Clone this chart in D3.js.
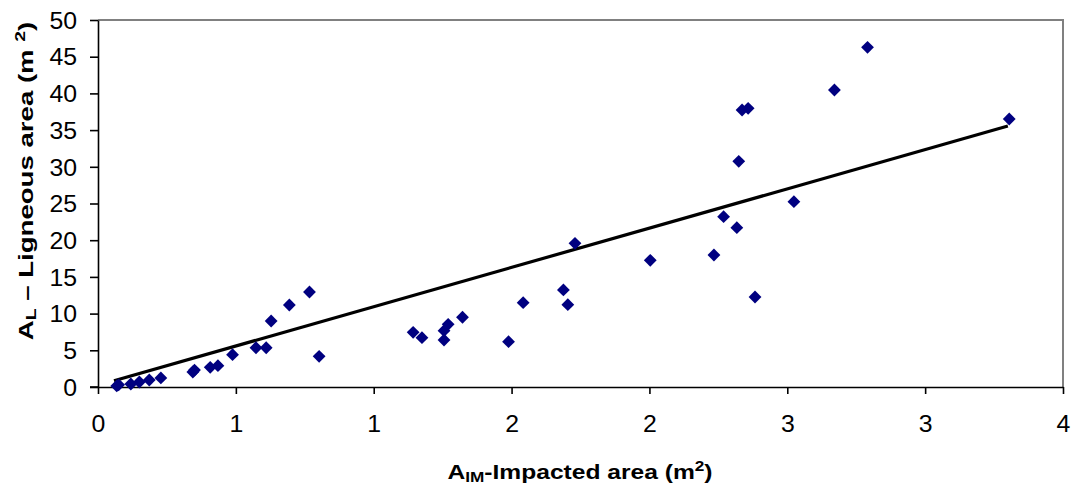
<!DOCTYPE html>
<html>
<head>
<meta charset="utf-8">
<script src="https://cdn.jsdelivr.net/npm/d3@7"></script>
<style>
  html, body { margin: 0; padding: 0; background: #fff; }
  svg { display: block; font-family: "Liberation Sans", Arial, sans-serif; }
</style>
</head>
<body>
<svg id="chart" width="1073" height="489"></svg>
<script>
// ---- data ----
const impactedArea = [0.068, 0.075, 0.119, 0.150, 0.186, 0.228, 0.344, 0.350, 0.407, 0.435,
  0.488, 0.573, 0.610, 0.628, 0.694, 0.767, 0.802,
  1.143, 1.175, 1.255, 1.255, 1.270, 1.322, 1.489, 1.542, 1.688, 1.704, 1.730,
  2.003, 2.234, 2.269, 2.317, 2.324, 2.336, 2.358, 2.383, 2.524, 2.671, 2.791, 3.305];
const ligneousArea = [0.14, 0.30, 0.41, 0.68, 0.95, 1.23, 2.04, 2.30, 2.68, 2.90,
  4.40, 5.35, 5.35, 8.99, 11.17, 12.94, 4.18,
  7.45, 6.72, 6.40, 7.67, 8.54, 9.50, 6.17, 11.49, 13.22, 11.21, 19.58,
  17.26, 17.98, 23.20, 21.70, 30.75, 37.74, 37.97, 12.26, 25.25, 40.46, 46.28, 36.51];
const trendX = [0.058, 3.300];
const trendY = [0.86, 35.56];
const xTicks = [0, 0.5, 1, 1.5, 2, 2.5, 3, 3.5];
const yTicks = [0, 5, 10, 15, 20, 25, 30, 35, 40, 45, 50];

// ---- layout ----
const svg = d3.select("#chart");
const pLeft = 98, pRight = 1063, pTop = 20, pBottom = 387;

const x = d3.scaleLinear().domain([0, 3.5]).range([pLeft, pRight]);
const y = d3.scaleLinear().domain([0, 50]).range([pBottom, pTop]);

// plot frame (top/right in gray)
svg.append("path")
  .attr("d", `M${pLeft},${pTop}H${pRight}V${pBottom}`)
  .attr("fill", "none").attr("stroke", "#808080").attr("stroke-width", 2);

// axes
const fmtX = d => String(Math.round(d));
const xAxis = svg.append("g").attr("transform", `translate(0,${pBottom})`)
  .call(d3.axisBottom(x).tickValues(xTicks).tickFormat(fmtX).tickSizeInner(7).tickSizeOuter(0).tickPadding(22));
const yAxis = svg.append("g").attr("transform", `translate(${pLeft},0)`)
  .call(d3.axisLeft(y).tickValues(yTicks).tickSizeInner(8).tickSizeOuter(0).tickPadding(12));

[xAxis, yAxis].forEach(g => {
  g.select(".domain").attr("stroke", "#000").attr("stroke-width", 1.6);
  g.selectAll(".tick line").attr("stroke", "#000").attr("stroke-width", 1.6);
  g.selectAll(".tick text").attr("fill", "#000").style("font-size", "23px")
    .style("font-family", "'Liberation Sans', Arial, sans-serif")
    .style("transform-box", "fill-box").style("transform-origin", "center")
    .style("transform", "scaleX(1.08)");
});
xAxis.selectAll(".tick text").attr("dy", "0").attr("y", 45);
yAxis.selectAll(".tick text").attr("dy", "0.36em").attr("x", -21)
  .style("transform-origin", "right center");

// extend x axis line slightly to the left past y axis
svg.append("line").attr("x1", pLeft - 8).attr("x2", pLeft).attr("y1", pBottom).attr("y2", pBottom)
  .attr("stroke", "#000").attr("stroke-width", 1.6);

// trend line
const line = d3.line().x(d => x(d[0])).y(d => y(d[1]));
svg.append("path")
  .datum(trendX.map((v, i) => [v, trendY[i]]))
  .attr("d", line)
  .attr("fill", "none").attr("stroke", "#000").attr("stroke-width", 3.2);

// points (diamonds)
const diamond = d3.symbol().type(d3.symbolSquare).size(82);
svg.append("g").selectAll("path")
  .data(impactedArea.map((v, i) => [v, ligneousArea[i]]))
  .join("path")
  .attr("d", diamond)
  .attr("transform", d => `translate(${x(d[0])},${y(d[1])}) rotate(45)`)
  .attr("fill", "#000080");

// axis titles
const xt = svg.append("text")
  .attr("transform", `translate(580,479) scale(1.23,1)`)
  .attr("text-anchor", "middle")
  .style("font-size", "20px").style("font-weight", "bold").attr("fill", "#000");
xt.append("tspan").text("A");
xt.append("tspan").text("IM").style("font-size", "14px").attr("dy", 3);
xt.append("tspan").text("-Impacted area (m").attr("dy", -3);
xt.append("tspan").text("2").style("font-size", "14px").attr("dy", -8);
xt.append("tspan").text(")").attr("dy", 8);

const yt = svg.append("text")
  .attr("transform", `translate(33,181) rotate(-90) scale(1.38,1)`)
  .attr("text-anchor", "middle")
  .style("font-size", "20px").style("font-weight", "bold").attr("fill", "#000");
yt.append("tspan").text("A");
yt.append("tspan").text("L").style("font-size", "14px").attr("dy", 3);
yt.append("tspan").text(" \u2013 Ligneous area (m ").attr("dy", -3);
yt.append("tspan").text("2").style("font-size", "14px").attr("dy", -8);
yt.append("tspan").text(")").attr("dy", 8);
</script>
</body>
</html>
